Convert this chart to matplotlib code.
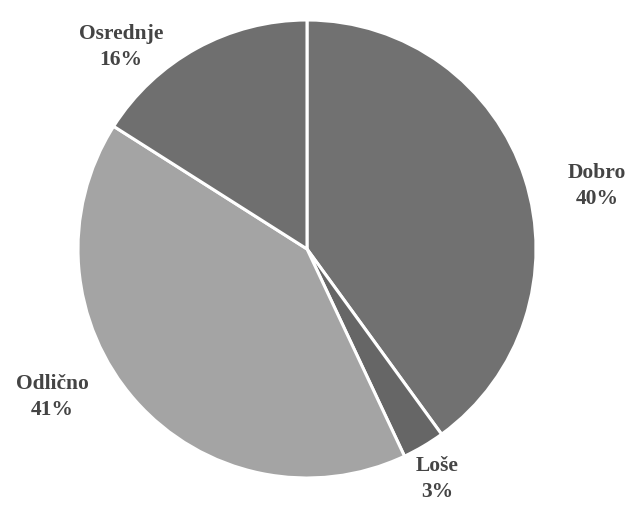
import matplotlib
matplotlib.use("Agg")
import matplotlib.pyplot as plt

categories = ["Dobro", "Loše", "Odlično", "Osrednje"]
values = [40, 3, 41, 16]
colors = ["#717171", "#666666", "#a4a4a4", "#6f6f6f"]

# label positions in pixel coordinates (x, y from top)
label_pos = [(597, 186), (437, 479), (52, 397), (121, 47)]

W, H = 634, 506
fig = plt.figure(figsize=(W / 100, H / 100), dpi=100)
ax = fig.add_axes([0, 0, 1, 1])
cx, cy, r = 307, 250, 229
ax.pie(values, colors=colors, startangle=90, counterclock=False,
       center=(cx, H - cy), radius=r,
       wedgeprops=dict(edgecolor="white", linewidth=2.2))
ax.set_xlim(0, W)
ax.set_ylim(0, H)
ax.set_aspect("equal")
ax.axis("off")

for cat, v, (x, y) in zip(categories, values, label_pos):
    ax.text(x, H - y, f"{cat}\n{v}%", ha="center", va="center",
            fontsize=15.5, fontweight="bold", family="Liberation Serif",
            color="#444444", linespacing=1.45)

fig.savefig("out.png", dpi=100)
